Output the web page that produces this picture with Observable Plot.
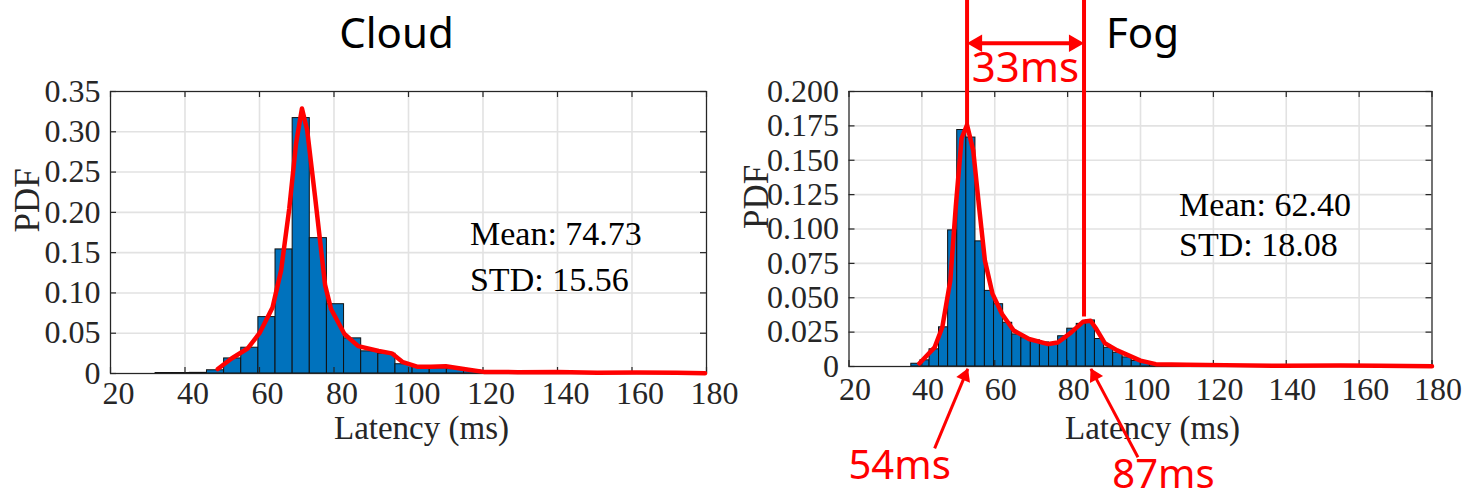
<!DOCTYPE html>
<html><head><meta charset="utf-8">
<script src="https://cdn.jsdelivr.net/npm/d3@7"></script>
<script src="https://cdn.jsdelivr.net/npm/@observablehq/plot@0.6"></script>
<style>
html,body{margin:0;padding:0;background:#fff;overflow:hidden;}
#wrap{display:flex;width:1464px;height:498px;position:relative;}
#wrap svg{display:block;overflow:visible;}
#wrap svg:first-child{position:relative;z-index:2;}
</style></head><body><div id="wrap"></div>
<script>
// ---------- shared ----------
const xTicks = [20, 40, 60, 80, 100, 120, 140, 160, 180];
const xLabel = "Latency (ms)";
const yLabel = "PDF";

// ---------- Cloud ----------
const cloudTitle = "Cloud";
const cloudYTicks = [0, 0.05, 0.10, 0.15, 0.20, 0.25, 0.30, 0.35];
const cloudYLabels = ["0", "0.05", "0.10", "0.15", "0.20", "0.25", "0.30", "0.35"];
const cloudBinEdges = [32.1, 36.7, 41.3, 45.9, 50.5, 55.1, 59.7, 64.3, 68.9, 73.5, 78.1, 82.7, 87.3, 91.9, 96.5, 101.1, 105.7, 110.3, 114.9, 119.5, 124.1, 128.7, 133.3];
const cloudPdf = [0.0006, 0.0006, 0.0008, 0.004, 0.0187, 0.032, 0.070, 0.154, 0.317, 0.168, 0.086, 0.0436, 0.0275, 0.0245, 0.0115, 0.008, 0.0065, 0.0055, 0.0035, 0.0015, 0.001, 0.0008];
const cloudFitX = [48.8, 52.5, 56.8, 60.0, 63.5, 65.8, 68.0, 69.8, 71.4, 72.8, 74.9, 77.6, 79.2, 82.8, 86.5, 92.0, 95.5, 98.5, 102.3, 106.0, 110.0, 115.7, 120.2, 129.3, 140.0, 150.7, 161.3, 172.0, 179.6];
const cloudFitY = [0.0055, 0.0186, 0.031, 0.05, 0.082, 0.128, 0.205, 0.285, 0.329, 0.302, 0.22, 0.11, 0.08, 0.049, 0.034, 0.028, 0.025, 0.014, 0.0085, 0.0085, 0.009, 0.005, 0.002, 0.0017, 0.002, 0.001, 0.0012, 0.0008, 0.0003];
const cloudStats = ["Mean: 74.73", "STD: 15.56"];
const cloudStatsX = 116.5;
const cloudStatsY = [0.1589, 0.1030];

// ---------- Fog ----------
const fogTitle = "Fog";
const fogYTicks = [0, 0.025, 0.05, 0.075, 0.1, 0.125, 0.15, 0.175, 0.2];
const fogYLabels = ["0", "0.025", "0.050", "0.075", "0.100", "0.125", "0.150", "0.175", "0.200"];
const fogBinEdges = [37.1, 39.6, 42.1, 44.7, 47.2, 49.7, 52.2, 54.7, 57.3, 59.8, 62.3, 64.8, 67.3, 69.9, 72.4, 74.9, 77.4, 79.9, 82.5, 85.0, 87.5, 90.0, 92.5, 95.1, 97.6, 100.1, 102.6, 105.1, 107.6, 110.2, 112.7];
const fogPdf = [0.002, 0.0045, 0.0125, 0.0285, 0.099, 0.172, 0.1665, 0.091, 0.055, 0.0453, 0.0318, 0.0233, 0.0206, 0.019, 0.0175, 0.0163, 0.022, 0.0275, 0.031, 0.0335, 0.020, 0.0136, 0.0100, 0.0066, 0.004, 0.0025, 0.0015, 0.001, 0.0008, 0.0006];
const fogFitX = [39.3, 43.5, 45.6, 47.8, 49.3, 50.9, 52.4, 54.1, 55.7, 57.3, 59.4, 62.0, 65.2, 69.4, 74.7, 77.3, 81.0, 84.2, 86.3, 87.9, 90.2, 93.6, 100.0, 104.2, 112.7, 123.2, 139.0, 154.9, 165.4, 180.0];
const fogFitY = [0.0022, 0.0139, 0.0285, 0.0625, 0.116, 0.166, 0.1757, 0.157, 0.116, 0.077, 0.0528, 0.0382, 0.0262, 0.020, 0.0163, 0.0175, 0.0248, 0.0325, 0.0333, 0.0272, 0.017, 0.0117, 0.0043, 0.0017, 0.0012, 0.001, 0.0005, 0.0007, 0.0005, 0.0002];
const fogStats = ["Mean: 62.40", "STD: 18.08"];
const fogStatsX = 110.6;
const fogStatsY = [0.1098, 0.0807];

// Fog annotations (data coordinates)
const peakLineX = [52.4, 84.5];
const peakLineTop = 0.2662;
const peakLineBottom = [0.1757, 0.036];
const gapArrowY = 0.2351;
const gapLabel = "33ms";
const gapLabelX = 68.4;
const gapLabelY = 0.2068;
const peakLabels = ["54ms", "87ms"];
const peakLabelX = [33.9, 106.3];
const peakLabelY = [-0.0816, -0.0880];
const peakArrowTipX = [52.6, 86.4];
const peakArrowTipY = [-0.0017, -0.0017];
const peakArrowTailX = [43.5, 99.3];
const peakArrowTailY = [-0.0596, -0.0660];

const RED = "#ff0000";
const SERIF = "Liberation Serif, Times New Roman, serif";
const SANS = "Noto Sans, Open Sans, sans-serif";

function panel(o) {
  const W = 732, H = 498;
  const innerW = W - o.ml - o.mr, innerH = H - o.mt - o.mb;
  const bins = o.pdf.map((v, i) => ({x1: o.edges[i], x2: o.edges[i + 1], y: v}));
  const fit = o.fitX.map((x, i) => ({x, y: o.fitY[i]}));
  const labelMap = new Map(o.yTicks.map((t, i) => [t, o.yLabels[i]]));
  const stats = o.stats.map((s, i) => ({s, x: o.statsX, y: o.statsY[i]}));
  const ink = "#262626";
  const marks = [
    Plot.gridX(xTicks, {stroke: "#e2e2e2", strokeOpacity: 1, strokeWidth: 1.6}),
    Plot.gridY(o.yTicks, {stroke: "#e2e2e2", strokeOpacity: 1, strokeWidth: 1.6}),
    Plot.rect(bins, {x1: "x1", x2: "x2", y1: 0, y2: "y", fill: "#0072BD", stroke: "#111", strokeWidth: 1}),
    Plot.frame({stroke: ink, strokeWidth: 1.2}),
    Plot.tickX(xTicks, {x: d => d, insetTop: innerH - 6, stroke: ink, strokeWidth: 1.2}),
    Plot.tickX(xTicks, {x: d => d, insetBottom: innerH - 6, stroke: ink, strokeWidth: 1.2}),
    Plot.tickY(o.yTicks, {y: d => d, insetRight: innerW - 6, stroke: ink, strokeWidth: 1.2}),
    Plot.tickY(o.yTicks, {y: d => d, insetLeft: innerW - 6, stroke: ink, strokeWidth: 1.2}),
    Plot.line(fit, {x: "x", y: "y", stroke: RED, strokeWidth: 4.5, strokeLinejoin: "round", strokeLinecap: "round"}),
    Plot.axisX({ticks: xTicks, tickSize: 0, tickPadding: o.xPad, dx: o.xdx, label: null, fontSize: 32, fill: ink}),
    Plot.axisY({ticks: o.yTicks, tickSize: 0, tickPadding: 10, label: null, fontSize: 32, fill: ink, tickFormat: d => labelMap.get(d)}),
    Plot.text([xLabel], {text: d => d, frameAnchor: "bottom", dy: o.xLabelDy, dx: o.xLabelDx, lineAnchor: "bottom", fontSize: 33, fill: ink}),
    Plot.text([yLabel], {text: d => d, frameAnchor: "left", rotate: -90, dx: o.yLabelDx, lineAnchor: "bottom", fontSize: 35, fill: ink}),
    Plot.text(stats, {x: "x", y: "y", text: "s", textAnchor: "start", lineAnchor: "bottom", fontSize: 34, fill: "#000"}),
    Plot.text([o.title], {text: d => d, frameAnchor: "top", dx: o.titleDx, dy: o.titleDy, lineAnchor: "bottom", fontSize: 42, fontFamily: SANS, fill: "#000"}),
    ...(o.extra || [])
  ];
  return Plot.plot({
    width: W, height: H,
    marginLeft: o.ml, marginRight: o.mr, marginTop: o.mt, marginBottom: o.mb,
    x: {domain: [20, 180]},
    y: {domain: o.yDomain},
    style: {fontFamily: SERIF, fontSize: "32px", color: ink, background: "transparent", overflow: "visible"},
    marks
  });
}

const peakLines = peakLineX.map((x, i) => ({x, y1: peakLineTop, y2: peakLineBottom[i]}));
const gapHeads = [
  {x: peakLineX[0], y: gapArrowY, rot: -90, dx: 10},
  {x: peakLineX[1], y: gapArrowY, rot: 90, dx: -10}
];
const peakArrows = peakLabels.map((s, i) => ({
  s, lx: peakLabelX[i], ly: peakLabelY[i],
  x1: peakArrowTailX[i], y1: peakArrowTailY[i], x2: peakArrowTipX[i], y2: peakArrowTipY[i]
}));
const peakHeads = [
  {x: peakArrowTipX[0], y: peakArrowTipY[0], rot: 22.7, dx: -3.0, dy: 7.2},
  {x: peakArrowTipX[1], y: peakArrowTipY[1], rot: -27.5, dx: 3.6, dy: 6.9}
];

const fogExtra = [
  Plot.ruleX(peakLines, {x: "x", y1: "y1", y2: "y2", stroke: RED, strokeWidth: 4}),
  Plot.link([{x1: peakLineX[0] + 1.5, x2: peakLineX[1] - 1.5, y: gapArrowY}], {x1: "x1", x2: "x2", y1: "y", y2: "y", stroke: RED, strokeWidth: 4}),
  Plot.dot([gapHeads[0]], {x: "x", y: "y", symbol: "triangle", r: 6.5, rotate: gapHeads[0].rot, dx: gapHeads[0].dx, fill: RED, stroke: "none"}),
  Plot.dot([gapHeads[1]], {x: "x", y: "y", symbol: "triangle", r: 6.5, rotate: gapHeads[1].rot, dx: gapHeads[1].dx, fill: RED, stroke: "none"}),
  Plot.text([gapLabel], {x: [gapLabelX], y: [gapLabelY], text: d => d, lineAnchor: "bottom", fontSize: 42, fontFamily: SANS, fill: RED}),
  Plot.link(peakArrows, {x1: "x1", y1: "y1", x2: "x2", y2: "y2", stroke: RED, strokeWidth: 3}),
  Plot.dot([peakHeads[0]], {x: "x", y: "y", symbol: "triangle", r: 5.5, rotate: peakHeads[0].rot, dx: peakHeads[0].dx, dy: peakHeads[0].dy, fill: RED, stroke: "none"}),
  Plot.dot([peakHeads[1]], {x: "x", y: "y", symbol: "triangle", r: 5.5, rotate: peakHeads[1].rot, dx: peakHeads[1].dx, dy: peakHeads[1].dy, fill: RED, stroke: "none"}),
  Plot.text(peakArrows, {x: "lx", y: "ly", text: "s", lineAnchor: "bottom", fontSize: 40, fontFamily: SANS, fill: RED})
];

const wrap = document.getElementById("wrap");
wrap.appendChild(panel({
  title: cloudTitle, titleDx: -12, titleDy: -44,
  ml: 110, mr: 26, mt: 91, mb: 125,
  yDomain: [0, 0.35], yTicks: cloudYTicks, yLabels: cloudYLabels,
  edges: cloudBinEdges, pdf: cloudPdf, fitX: cloudFitX, fitY: cloudFitY,
  stats: cloudStats, statsX: cloudStatsX, statsY: cloudStatsY,
  xPad: 8, xdx: 8, xLabelDy: 65, xLabelDx: 13, yLabelDx: -72
}));
wrap.appendChild(panel({
  title: fogTitle, titleDx: 2, titleDy: -44,
  ml: 116.5, mr: 32.5, mt: 91, mb: 132,
  yDomain: [0, 0.2], yTicks: fogYTicks, yLabels: fogYLabels,
  edges: fogBinEdges, pdf: fogPdf, fitX: fogFitX, fitY: fogFitY,
  stats: fogStats, statsX: fogStatsX, statsY: fogStatsY,
  xPad: 11, xdx: 6, xLabelDy: 72, xLabelDx: 12, yLabelDx: -81,
  extra: fogExtra
}));
</script></body></html>
